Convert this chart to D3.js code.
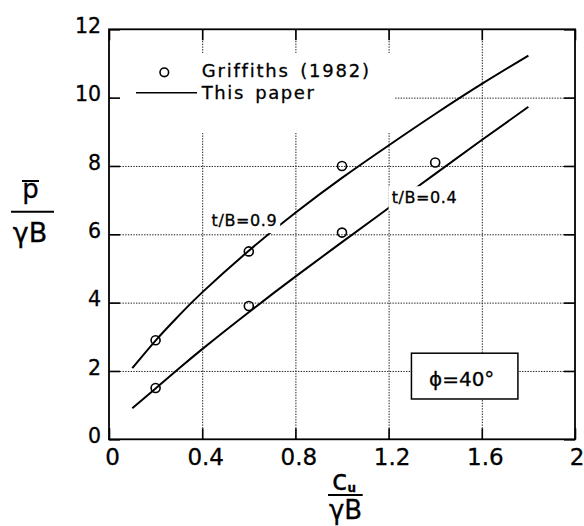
<!DOCTYPE html>
<html>
<head>
<meta charset="utf-8">
<script src="https://cdn.jsdelivr.net/npm/d3@7"></script>
<style>
  html, body { margin: 0; padding: 0; background: #fff; }
  svg { display: block; }
  text { font-family: "DejaVu Sans", "Noto Sans", sans-serif; fill: #000; stroke: #000; stroke-width: 0.3px; }
</style>
</head>
<body>
<svg id="chart" width="584" height="526"></svg>
<script>
// Axis ticks
const xTicks = [0, 0.4, 0.8, 1.2, 1.6, 2];
const xTickLabels = ["0", "0.4", "0.8", "1.2", "1.6", "2"];
const yTicks = [0, 2, 4, 6, 8, 10, 12];
const yTickLabels = ["0", "2", "4", "6", "8", "10", "12"];

// Computed bearing capacity curves ("This paper")
const curveX = [0.1, 0.2, 0.3, 0.4, 0.6, 0.8, 1.0, 1.2, 1.4, 1.6, 1.8];
const curve09Y = [2.08, 2.89, 3.62, 4.30, 5.52, 6.63, 7.65, 8.60, 9.52, 10.40, 11.23];
const curve04Y = [0.91, 1.49, 2.07, 2.64, 3.72, 4.76, 5.77, 6.77, 7.77, 8.76, 9.73];

// Griffiths (1982) results
const griff09X = [0.2, 0.6, 1.0];
const griff09Y = [2.9, 5.5, 8.0];
const griff04X = [0.2, 0.6, 1.0, 1.4];
const griff04Y = [1.5, 3.9, 6.05, 8.1];

const seriesNames = ["Griffiths (1982)", "This paper"];
const curveLabels = ["t/B=0.9", "t/B=0.4"];
const phiLabel = "\u03d5=40\u00b0";

(function draw() {
  const svg = d3.select("#chart");
  const pl = 109, pr = 575, pt = 29.3, pb = 439.3;
  const x = d3.scaleLinear().domain([0, 2]).range([pl, pr]);
  const y = d3.scaleLinear().domain([0, 12]).range([pb, pt]);

  // Dotted grid
  const gridX = svg.append("g").attr("transform", `translate(0,${pb})`)
    .call(d3.axisBottom(x).tickValues(xTicks.slice(1, -1)).tickSize(-(pb - pt)).tickFormat(""));
  const gridY = svg.append("g").attr("transform", `translate(${pl},0)`)
    .call(d3.axisLeft(y).tickValues(yTicks.slice(1, -1)).tickSize(-(pr - pl)).tickFormat(""));
  [gridX, gridY].forEach(g => {
    g.select(".domain").remove();
    g.selectAll("line").attr("stroke", "#222").attr("stroke-width", 1).attr("stroke-dasharray", "1.4,1.3");
  });

  // Legend knock-out box
  svg.append("rect").attr("x", 112).attr("y", 53).attr("width", 283).attr("height", 80).attr("fill", "#fff");

  // Curves
  const line = d3.line().x(d => x(d[0])).y(d => y(d[1])).curve(d3.curveNatural);
  [curve09Y, curve04Y].forEach(ys => {
    svg.append("path")
      .datum(curveX.map((v, i) => [v, ys[i]]))
      .attr("d", line)
      .attr("fill", "none").attr("stroke", "#000").attr("stroke-width", 2);
  });

  // Curve labels, each over a white patch that breaks the curve
  const labelPos = [[0.44, 6.24], [1.213, 6.91]];
  curveLabels.forEach((t, i) => {
    const g = svg.append("g");
    const bg = g.append("rect").attr("fill", "#fff");
    const txt = g.append("text")
      .attr("x", x(labelPos[i][0])).attr("y", y(labelPos[i][1]))
      .attr("font-size", 16).attr("letter-spacing", 0.6)
      .text(t);
    const b = txt.node().getBBox();
    const pad = 3;
    bg.attr("x", b.x - pad).attr("y", b.y - pad + 1).attr("width", b.width + 2 * pad).attr("height", b.height + 2 * pad - 1);
  });

  // Griffiths markers
  const pts = griff09X.map((v, i) => [v, griff09Y[i]]).concat(griff04X.map((v, i) => [v, griff04Y[i]]));
  svg.append("g").selectAll("circle").data(pts).join("circle")
    .attr("cx", d => x(d[0])).attr("cy", d => y(d[1])).attr("r", 4.5)
    .attr("fill", "none").attr("stroke", "#000").attr("stroke-width", 1.6);

  // Legend
  svg.append("circle").attr("cx", 164.3).attr("cy", 72.3).attr("r", 4.3)
    .attr("fill", "none").attr("stroke", "#000").attr("stroke-width", 1.6);
  svg.append("line").attr("x1", 136).attr("x2", 197).attr("y1", 92.7).attr("y2", 92.7)
    .attr("stroke", "#000").attr("stroke-width", 1.6);
  svg.append("text").attr("x", 201.7).attr("y", 77.3).attr("font-size", 18)
    .attr("letter-spacing", 1.8).attr("word-spacing", 3).text(seriesNames[0]);
  svg.append("text").attr("x", 201.7).attr("y", 98.5).attr("font-size", 18)
    .attr("letter-spacing", 1.6).attr("word-spacing", 3).text(seriesNames[1]);

  // Inward ticks on all four sides
  const tickLen = 11;
  const axB = svg.append("g").attr("transform", `translate(0,${pb})`)
    .call(d3.axisBottom(x).tickValues(xTicks).tickSize(-tickLen).tickPadding(9.5).tickFormat((d, i) => xTickLabels[i]));
  const axT = svg.append("g").attr("transform", `translate(0,${pt})`)
    .call(d3.axisTop(x).tickValues(xTicks).tickSize(-tickLen).tickFormat(""));
  const axL = svg.append("g").attr("transform", `translate(${pl},0)`)
    .call(d3.axisLeft(y).tickValues(yTicks).tickSize(-tickLen).tickPadding(8).tickFormat((d, i) => yTickLabels[i]));
  const axR = svg.append("g").attr("transform", `translate(${pr},0)`)
    .call(d3.axisRight(y).tickValues(yTicks).tickSize(-tickLen).tickFormat(""));
  [axB, axT, axL, axR].forEach(g => {
    g.select(".domain").remove();
    g.selectAll("line").attr("stroke", "#000").attr("stroke-width", 1.6);
  });
  axB.selectAll("text").attr("font-size", 23).attr("dx", 3)
    .attr("font-family", "'DejaVu Sans', sans-serif").attr("fill", "#000");
  // keep the last label inside the page
  axB.selectAll(".tick").filter((d, i) => i === xTicks.length - 1).select("text")
    .attr("text-anchor", "end").attr("dx", 0).attr("x", 584 - pr);
  axL.selectAll("text").attr("font-size", 20.5)
    .attr("font-family", "'DejaVu Sans', sans-serif").attr("fill", "#000").attr("dy", 3.3);

  // Frame
  svg.append("rect").attr("x", pl).attr("y", pt).attr("width", pr - pl).attr("height", pb - pt)
    .attr("fill", "none").attr("stroke", "#000").attr("stroke-width", 1.8);

  // Friction angle box
  const bx0 = x(1.298), bx1 = x(1.755), by0 = y(2.52), by1 = y(1.18);
  svg.append("rect").attr("x", bx0).attr("y", by0).attr("width", bx1 - bx0).attr("height", by1 - by0)
    .attr("fill", "#fff").attr("stroke", "#000").attr("stroke-width", 1.5);
  svg.append("text").attr("x", (bx0 + bx1) / 2 - 3).attr("y", by0 + 33)
    .attr("text-anchor", "middle").attr("font-size", 20).text(phiLabel);

  // Y-axis title: p̄ / γB
  svg.append("text").attr("x", 30.5).attr("y", 198).attr("text-anchor", "middle").attr("font-size", 26).text("p");
  svg.append("line").attr("x1", 22).attr("x2", 39).attr("y1", 181).attr("y2", 181).attr("stroke", "#000").attr("stroke-width", 2);
  svg.append("line").attr("x1", 11).attr("x2", 54).attr("y1", 211.7).attr("y2", 211.7).attr("stroke", "#000").attr("stroke-width", 2);
  svg.append("text").attr("x", 30).attr("y", 241.7).attr("text-anchor", "middle").attr("font-size", 27).text("\u03b3B");

  // X-axis title: c_u / γB
  const cT = svg.append("text").attr("x", 332).attr("y", 490).attr("font-size", 28);
  cT.append("tspan").text("c");
  cT.append("tspan").attr("font-size", 12).attr("dx", 0).attr("dy", 1.5).attr("font-weight", "bold").text("u");
  svg.append("line").attr("x1", 328).attr("x2", 362.7).attr("y1", 495).attr("y2", 495).attr("stroke", "#000").attr("stroke-width", 2);
  svg.append("text").attr("x", 345.5).attr("y", 519).attr("text-anchor", "middle").attr("font-size", 26).text("\u03b3B");
})();
</script>
</body>
</html>
